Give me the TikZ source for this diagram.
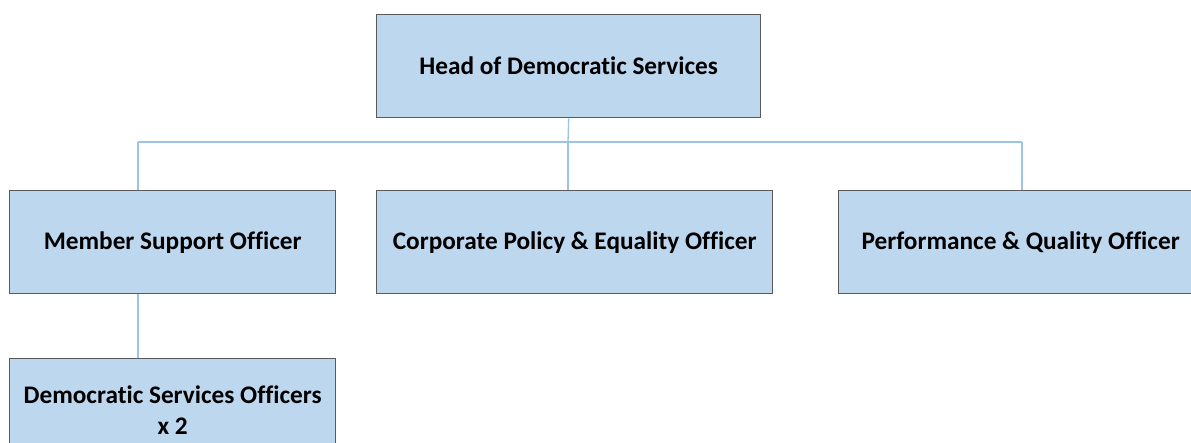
\documentclass[tikz,border=0pt]{standalone}
\usepackage{fontspec}
\setmainfont{Carlito}[RawFeature=-liga]
\definecolor{boxfill}{HTML}{BDD7EE}
\definecolor{boxline}{HTML}{5A5A5A}
\definecolor{linkblue}{HTML}{9DC3E6}
\begin{document}
\begin{tikzpicture}[x=1pt,y=-1pt,
  post/.style={draw=boxline, line width=1.4pt, fill=boxfill, rectangle,
    anchor=north west, inner sep=0pt, align=center,
    minimum height=103pt,
    font=\fontsize{25.3}{31}\selectfont\bfseries},
  link/.style={draw=linkblue, line width=1.3pt}]
  \clip (0,0) rectangle (1191,442);
  \fill[white] (0,0) rectangle (1191,442);

  % posts
  \node[post, minimum width=384pt] (head) at (376,14) {Head of Democratic Services};
  \node[post, minimum width=326pt] (mso)  at (9,190)  {Member Support Officer};
  \node[post, minimum width=396pt] (cpe)  at (376,190) {Corporate Policy \& Equality Officer};
  \node[post, minimum width=364pt] (pqo)  at (838,190) {Performance \& Quality Officer};
  \node[post, minimum width=326pt] (dso)  at (9,358)  {Democratic Services Officers\\x 2};

  % reporting lines
  \coordinate (busL) at (138,142);
  \coordinate (busM) at (568,142);
  \coordinate (busR) at (1022,142);
  \draw[link] (head.south) -- (busM);
  \draw[link] (busL) -- (busR);
  \draw[link] (busL) -- (busL |- mso.north);
  \draw[link] (busM) -- (busM |- cpe.north);
  \draw[link] (busR) -- (busR |- pqo.north);
  \draw[link] (busL |- mso.south) -- (busL |- dso.north);
\end{tikzpicture}
\end{document}
